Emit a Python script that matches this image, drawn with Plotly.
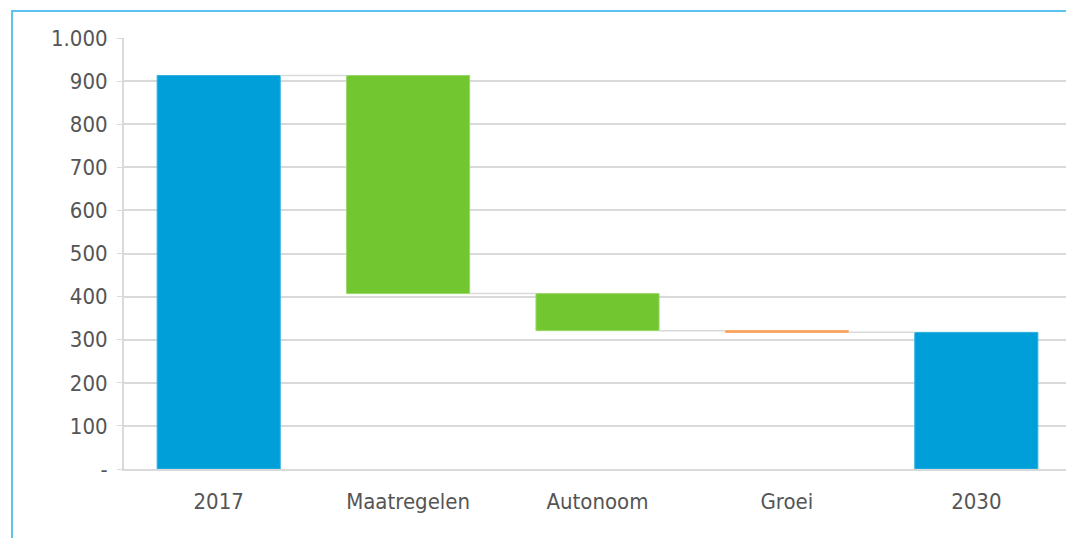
import plotly.graph_objects as go

categories = ["2017", "Maatregelen", "Autonoom", "Groei", "2030"]
values = [913, -506, -86, -4, 317]
kinds = ["total", "delta", "delta", "delta", "total"]
bar_colors = ["#009fd9", "#72c62f", "#72c62f", "#f7a35c", "#009fd9"]
line_colors = ["#33b2e2", "#9bd86a", "#9bd86a", "#f7a35c", "#33b2e2"]
tick_vals = [0, 100, 200, 300, 400, 500, 600, 700, 800, 900, 1000]
tick_text = ["-", "100", "200", "300", "400", "500", "600", "700", "800", "900", "1.000"]

# compute bases and heights from data
bases, heights, ends = [], [], []
running = 0
for v, k in zip(values, kinds):
    if k == "total":
        bases.append(0)
        heights.append(v)
        running = v
    else:
        new = running + v
        bases.append(min(running, new))
        heights.append(abs(v))
        running = new
    ends.append(running)

xs = list(range(len(categories)))
W = 0.65
FONT = "DejaVu Sans Condensed, DejaVu Sans, sans-serif"

fig = go.Figure()

# connectors
for i in range(len(categories) - 1):
    fig.add_trace(go.Scatter(
        x=[xs[i] + W / 2, xs[i + 1] - W / 2], y=[ends[i], ends[i]],
        mode="lines", line=dict(color="#d9d9d9", width=1.5),
        showlegend=False, hoverinfo="skip"))

fig.add_trace(go.Bar(
    x=xs, y=heights, base=bases, width=W,
    marker=dict(color=bar_colors, line=dict(color=line_colors, width=1)),
    showlegend=False))

fig.update_layout(
    width=1066, height=530,
    margin=dict(l=116, r=3, t=30, b=69),
    paper_bgcolor="white", plot_bgcolor="white",
    font=dict(family=FONT, color="#555555", size=22),
    xaxis=dict(
        tickmode="array", tickvals=xs, ticktext=categories,
        range=[-0.5, len(categories) - 0.5],
        showgrid=False, zeroline=False,
        showline=True, linecolor="#d9d9d9", linewidth=2,
        ticks="", ticklabelstandoff=12,
        tickfont=dict(family=FONT, size=22, color="#555555")),
    yaxis=dict(
        tickmode="array", tickvals=tick_vals, ticktext=tick_text,
        range=[0, 1000],
        showgrid=True, gridcolor="#d9d9d9", gridwidth=1.5,
        zeroline=False,
        showline=True, linecolor="#d9d9d9", linewidth=2,
        ticks="outside", ticklen=5, tickcolor="#d9d9d9",
        ticklabelstandoff=5,
        tickfont=dict(family=FONT, size=22, color="#555555")),
)

# outer light-blue frame of the chart
fig.add_shape(type="rect", xref="paper", yref="paper",
              x0=(12 - 124) / 947, x1=1.02, y0=-0.3, y1=(469 - 11) / 431,
              line=dict(color="#5cc3ee", width=2), fillcolor="rgba(0,0,0,0)",
              layer="below")

fig.write_html("out.html")
